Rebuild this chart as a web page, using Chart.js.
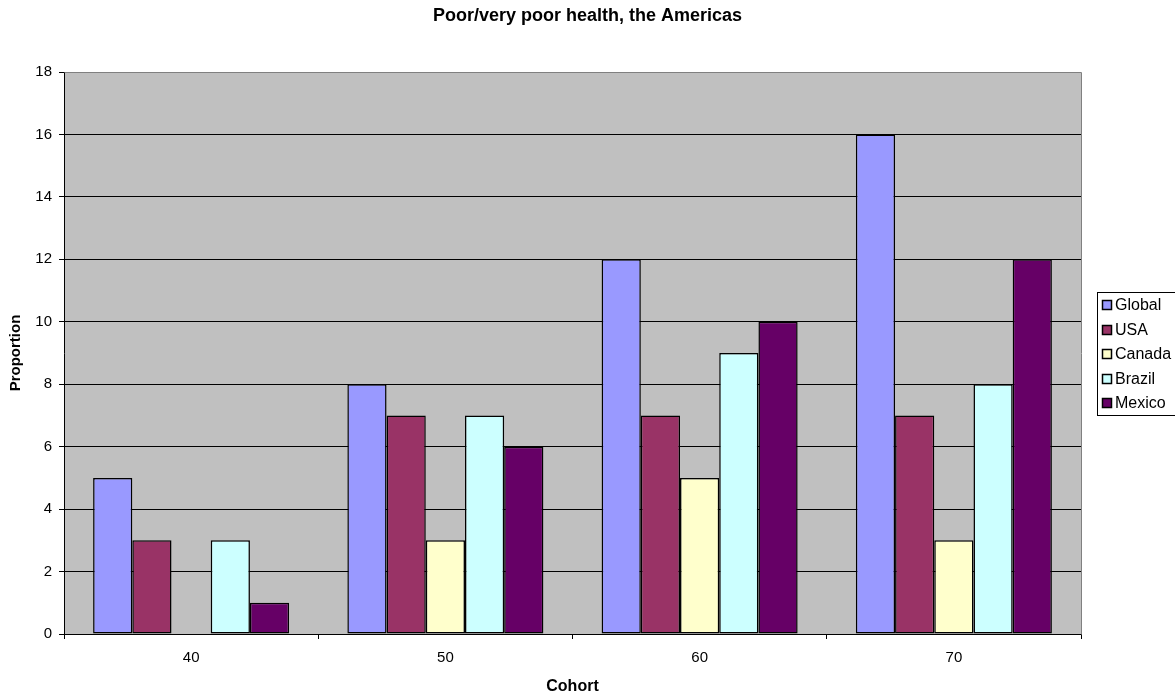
<!DOCTYPE html>
<html>
<head>
<meta charset="utf-8">
<title>Poor/very poor health, the Americas</title>
<script src="https://cdn.jsdelivr.net/npm/chart.js@4.4.1/dist/chart.umd.min.js"></script>
<style>
  html, body { margin: 0; padding: 0; background: #ffffff; }
  #wrap { width: 1175px; height: 696px; }
</style>
</head>
<body>
<div id="wrap"><canvas id="chart" width="1175" height="696"></canvas></div>
<script>
// Cohort categories and the proportion reporting poor/very poor health
const cohorts = ['40', '50', '60', '70'];
const globalVals = [5, 8, 12, 16];
const usaVals = [3, 7, 7, 7];
const canadaVals = [null, 3, 5, 3];
const brazilVals = [3, 7, 9, 8];
const mexicoVals = [1, 6, 10, 12];

const seriesNames = ['Global', 'USA', 'Canada', 'Brazil', 'Mexico'];
const seriesColors = ['#9999FF', '#993366', '#FFFFCC', '#CCFFFF', '#660066'];
const seriesValues = [globalVals, usaVals, canadaVals, brazilVals, mexicoVals];

const yMin = 0;
const yMax = 18;
const yStep = 2;

const chartTitle = 'Poor/very poor health, the Americas';
const xTitle = 'Cohort';
const yTitle = 'Proportion';

const FONT = '"Liberation Sans", Arial, Helvetica, sans-serif';

// Grey plot background and the grey frame along the top and right edges
const plotFrame = {
  id: 'plotFrame',
  beforeDraw(chart) {
    const { ctx, chartArea: a } = chart;
    ctx.save();
    ctx.fillStyle = '#C0C0C0';
    ctx.fillRect(a.left, a.top, a.right - a.left, a.bottom - a.top);
    ctx.restore();
  },
  beforeDatasetsDraw(chart) {
    const { ctx, chartArea: a } = chart;
    ctx.save();
    ctx.strokeStyle = '#808080';
    ctx.lineWidth = 1;
    ctx.beginPath();
    ctx.moveTo(Math.round(a.left) + 0.5, Math.round(a.top) + 0.5);
    ctx.lineTo(Math.round(a.right) + 0.5, Math.round(a.top) + 0.5);
    ctx.lineTo(Math.round(a.right) + 0.5, Math.round(a.bottom) + 0.5);
    ctx.stroke();
    ctx.restore();
  }
};

// Chart heading, centred over the whole canvas
const heading = {
  id: 'heading',
  afterDraw(chart) {
    const { ctx, width } = chart;
    ctx.save();
    ctx.fillStyle = '#000000';
    ctx.font = 'bold 18px ' + FONT;
    ctx.textAlign = 'center';
    ctx.textBaseline = 'middle';
    ctx.fillText(chartTitle, width / 2, 16);
    ctx.restore();
  }
};

// Boxed legend on the right, one row per series
const boxedLegend = {
  id: 'boxedLegend',
  afterDraw(chart) {
    const { ctx } = chart;
    const left = 1097, top = 292, rowH = 24.5, firstRow = 305;
    const sets = chart.data.datasets;
    const bottom = top + 123;
    ctx.save();
    ctx.fillStyle = '#ffffff';
    ctx.fillRect(left, top, 200, bottom - top);
    ctx.strokeStyle = '#000000';
    ctx.lineWidth = 1;
    ctx.strokeRect(left + 0.5, top + 0.5, 200, bottom - top);
    ctx.font = '16px ' + FONT;
    ctx.textBaseline = 'middle';
    ctx.textAlign = 'left';
    sets.forEach((ds, i) => {
      const cy = Math.round(firstRow + i * rowH);
      ctx.fillStyle = ds.backgroundColor;
      ctx.fillRect(1102, cy - 5, 10, 10);
      ctx.strokeStyle = '#000000';
      ctx.lineWidth = 1.5;
      ctx.strokeRect(1102.5, cy - 4.5, 9, 9);
      ctx.fillStyle = '#000000';
      ctx.fillText(ds.label, 1115, cy + 1);
    });
    ctx.restore();
  }
};

const datasets = seriesNames.map((name, i) => ({
  label: name,
  data: seriesValues[i],
  backgroundColor: seriesColors[i],
  borderColor: '#000000',
  borderWidth: 1.5,
  borderSkipped: false,
  barPercentage: 1.0,
  categoryPercentage: 0.771
}));

new Chart(document.getElementById('chart'), {
  type: 'bar',
  data: { labels: cohorts, datasets },
  options: {
    responsive: false,
    animation: false,
    devicePixelRatio: 1,
    layout: { padding: { left: 0, right: 94, top: 72, bottom: 0 } },
    plugins: {
      legend: { display: false },
      title: { display: false },
      tooltip: { enabled: false }
    },
    scales: {
      x: {
        offset: true,
        grid: {
          offset: true,
          drawOnChartArea: false,
          drawTicks: true,
          tickLength: 5,
          color: '#000000',
          lineWidth: 1
        },
        border: { display: true, color: '#000000', width: 1 },
        ticks: {
          color: '#000000',
          font: { family: FONT, size: 15 },
          padding: 10,
          maxRotation: 0
        },
        title: {
          display: true,
          text: xTitle,
          color: '#000000',
          font: { family: FONT, size: 16, weight: 'bold' },
          padding: { top: 0, bottom: 0 }
        },
        afterFit(scale) { scale.height = 62; }
      },
      y: {
        min: yMin,
        max: yMax,
        grid: {
          color: '#000000',
          lineWidth: 1,
          drawTicks: true,
          tickLength: 5
        },
        border: { display: true, color: '#000000', width: 1 },
        ticks: {
          stepSize: yStep,
          color: '#000000',
          font: { family: FONT, size: 15 },
          padding: 7
        },
        title: {
          display: true,
          text: yTitle,
          color: '#000000',
          font: { family: FONT, size: 15, weight: 'bold' },
          padding: { top: 7, bottom: 0 }
        },
        afterFit(scale) { scale.width = 64; }
      }
    }
  },
  plugins: [plotFrame, heading, boxedLegend]
});
</script>
</body>
</html>
